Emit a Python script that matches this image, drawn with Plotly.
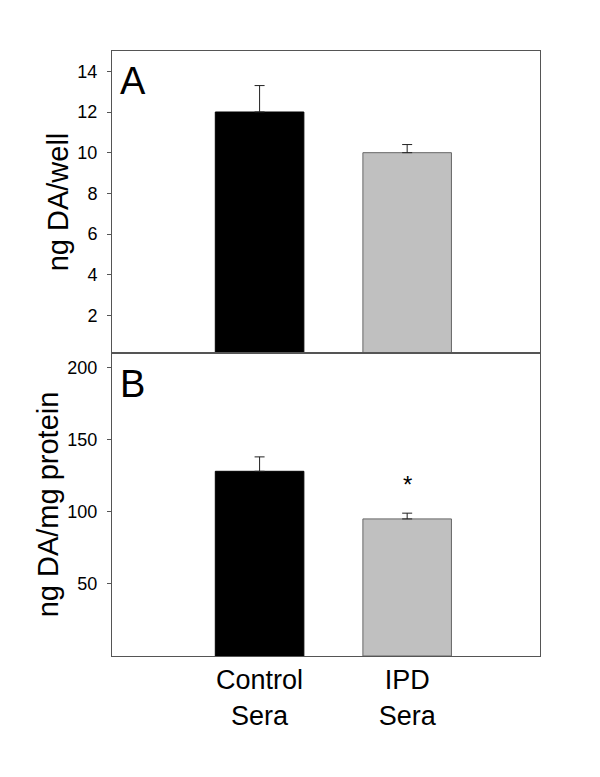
import plotly.graph_objects as go

groups = ["Control<br>Sera", "IPD<br>Sera"]
bar_colors = ["#000000", "#c0c0c0"]

# panel A: ng DA/well
well_mean = [12.0, 10.0]
well_err = [1.3, 0.4]

# panel B: ng DA/mg protein
protein_mean = [128, 95]
protein_err = [10, 4]

a_ticks = [2, 4, 6, 8, 10, 12, 14]
b_ticks = [50, 100, 150, 200]

FONT = "Liberation Sans, Arial, sans-serif"
AXCOL = "#555555"

fig = go.Figure()

fig.add_trace(go.Bar(
    x=groups, y=well_mean, width=0.6,
    marker=dict(color=bar_colors, line=dict(color=["#000000", "#666666"], width=1)),
    error_y=dict(type="data", array=well_err, arrayminus=[0, 0], symmetric=False,
                 color="#222222", thickness=1, width=5),
    xaxis="x", yaxis="y", showlegend=False,
))
fig.add_trace(go.Bar(
    x=groups, y=protein_mean, width=0.6,
    marker=dict(color=bar_colors, line=dict(color=["#000000", "#666666"], width=1)),
    error_y=dict(type="data", array=protein_err, arrayminus=[0, 0], symmetric=False,
                 color="#222222", thickness=1, width=5),
    xaxis="x2", yaxis="y2", showlegend=False,
))

split = (656 - 353) / 605

yaxis_common = dict(
    ticks="outside", ticklen=4, tickcolor=AXCOL, tickfont=dict(size=18),
    ticklabelstandoff=6,
    showline=True, mirror=True, linecolor=AXCOL, linewidth=1,
    showgrid=False, zeroline=False, automargin=False,
)

fig.update_layout(
    width=600, height=777,
    # page body adds an 8px offset, so margins are trimmed on the top/left
    margin=dict(l=104, r=68, t=43, b=129),
    paper_bgcolor="white", plot_bgcolor="white",
    font=dict(family=FONT, color="black"),
    xaxis=dict(domain=[0, 1], range=[-1.0, 1.9], anchor="y", showticklabels=False,
               showline=True, mirror=True, linecolor=AXCOL, linewidth=1,
               ticks="", showgrid=False, zeroline=False),
    yaxis=dict(domain=[split, 1], range=[0.15, 15], anchor="x", tickvals=a_ticks,
               title=dict(text="ng DA/well", font=dict(size=29), standoff=0),
               **yaxis_common),
    xaxis2=dict(domain=[0, 1], range=[-1.0, 1.9], anchor="y2",
                showline=True, mirror=True, linecolor=AXCOL, linewidth=1,
                ticks="", showgrid=False, zeroline=False, tickfont=dict(size=27)),
    yaxis2=dict(domain=[0, split], range=[0, 210], anchor="x2", tickvals=b_ticks,
                title=dict(text="ng DA/mg protein", font=dict(size=29), standoff=0),
                **yaxis_common),
    annotations=[
        dict(text="A", xref="paper", yref="paper", x=0.015, y=0.989, xanchor="left",
             yanchor="top", showarrow=False, font=dict(size=38)),
        dict(text="B", xref="paper", yref="paper", x=0.015, y=split - 0.013, xanchor="left",
             yanchor="top", showarrow=False, font=dict(size=38)),
        dict(text="*", xref="x2", yref="y2", x=groups[1], y=protein_mean[1] + 24,
             showarrow=False, font=dict(size=24)),
    ],
)

fig.write_html("out.html")
